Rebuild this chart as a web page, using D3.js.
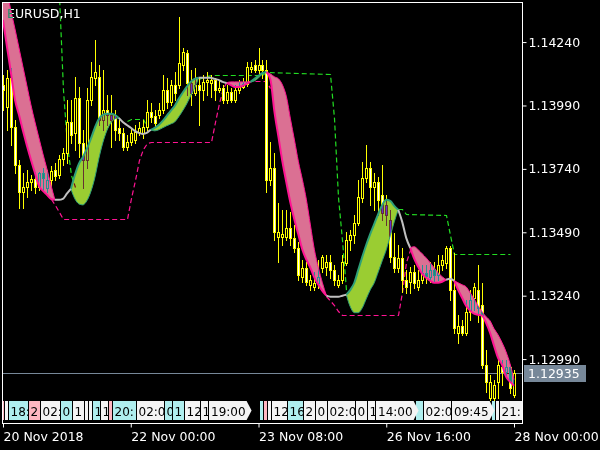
<!DOCTYPE html>
<html><head><meta charset="utf-8">
<script src="https://cdn.jsdelivr.net/npm/d3@7"></script>
<style>html,body{margin:0;padding:0;background:#000;}svg{display:block;}</style>
</head><body>
<svg id="c" width="600" height="450"></svg>
<script>
// ---------- DATA ----------
const chartTitle = "EURUSD,H1";
const barOpen = [1.14071,1.13984,1.14099,1.13906,1.13756,1.13650,1.13669,1.13689,1.13701,1.13669,1.13724,1.13665,1.13697,1.13736,1.13716,1.13780,1.13803,1.13925,1.13882,1.14020,1.13843,1.13776,1.14012,1.14099,1.14103,1.13933,1.13973,1.13953,1.13953,1.13902,1.13882,1.13827,1.13847,1.13854,1.13886,1.13882,1.13906,1.13965,1.13949,1.13953,1.13973,1.14051,1.14004,1.14071,1.14071,1.14150,1.14197,1.14079,1.14040,1.14071,1.14051,1.14083,1.14079,1.14091,1.14051,1.14059,1.14012,1.14044,1.14012,1.14051,1.14063,1.14075,1.14134,1.14150,1.14130,1.14150,1.14130,1.13697,1.13744,1.13472,1.13472,1.13472,1.13508,1.13468,1.13429,1.13315,1.13350,1.13283,1.13275,1.13291,1.13350,1.13354,1.13374,1.13342,1.13283,1.13303,1.13370,1.13460,1.13480,1.13527,1.13626,1.13705,1.13744,1.13669,1.13689,1.13638,1.13598,1.13539,1.13393,1.13350,1.13389,1.13303,1.13295,1.13334,1.13275,1.13303,1.13330,1.13315,1.13342,1.13322,1.13362,1.13370,1.13429,1.13263,1.13094,1.13122,1.13094,1.13177,1.13232,1.13263,1.13204,1.12968,1.12838,1.12838,1.12901,1.12960,1.12940,1.12960,1.12850];
const barHigh = [1.14110,1.14130,1.14138,1.13933,1.13776,1.13724,1.13736,1.13716,1.13728,1.13728,1.13744,1.13736,1.13752,1.13764,1.13795,1.13823,1.14012,1.14012,1.14103,1.14063,1.13894,1.14059,1.14162,1.14248,1.14150,1.14130,1.14032,1.14032,1.13973,1.13933,1.13902,1.13874,1.13902,1.13913,1.13925,1.13933,1.14012,1.14000,1.13973,1.14000,1.14110,1.14099,1.14091,1.14122,1.14339,1.14217,1.14209,1.14130,1.14138,1.14099,1.14110,1.14122,1.14110,1.14099,1.14091,1.14071,1.14071,1.14059,1.14071,1.14091,1.14099,1.14162,1.14162,1.14170,1.14217,1.14170,1.14170,1.13847,1.13803,1.13606,1.13579,1.13579,1.13571,1.13519,1.13453,1.13382,1.13374,1.13322,1.13334,1.13382,1.13401,1.13401,1.13401,1.13362,1.13322,1.13401,1.13492,1.13500,1.13559,1.13697,1.13768,1.13835,1.13768,1.13724,1.13709,1.13756,1.13638,1.13579,1.13488,1.13441,1.13429,1.13342,1.13354,1.13362,1.13342,1.13362,1.13362,1.13374,1.13374,1.13401,1.13401,1.13437,1.13437,1.13409,1.13165,1.13145,1.13224,1.13263,1.13291,1.13362,1.13291,1.13027,1.12928,1.12909,1.12988,1.12988,1.12988,1.12968,1.12948];
const barLow = [1.13973,1.13894,1.13835,1.13724,1.13586,1.13586,1.13630,1.13657,1.13646,1.13657,1.13657,1.13650,1.13673,1.13697,1.13705,1.13756,1.13764,1.13843,1.13815,1.13787,1.13665,1.13744,1.13992,1.14071,1.13913,1.13894,1.13913,1.13827,1.13854,1.13854,1.13815,1.13815,1.13835,1.13843,1.13874,1.13862,1.13894,1.13925,1.13910,1.13941,1.13961,1.13980,1.13992,1.14012,1.14059,1.14130,1.14032,1.13992,1.14032,1.13913,1.14012,1.14032,1.14024,1.14012,1.14044,1.14000,1.14000,1.14004,1.14004,1.14040,1.14059,1.14067,1.14122,1.14122,1.14110,1.14099,1.13650,1.13677,1.13460,1.13374,1.13441,1.13460,1.13441,1.13413,1.13303,1.13295,1.13283,1.13263,1.13263,1.13271,1.13334,1.13322,1.13311,1.13283,1.13275,1.13291,1.13362,1.13421,1.13449,1.13519,1.13610,1.13689,1.13598,1.13579,1.13559,1.13539,1.13519,1.13374,1.13334,1.13334,1.13256,1.13252,1.13252,1.13271,1.13263,1.13291,1.13291,1.13295,1.13295,1.13303,1.13342,1.13350,1.13224,1.13094,1.13055,1.13086,1.13086,1.13145,1.13185,1.13137,1.12956,1.12862,1.12830,1.12830,1.12838,1.12889,1.12928,1.12858,1.12842];
const barClose = [1.14051,1.14099,1.13906,1.13756,1.13650,1.13669,1.13689,1.13701,1.13669,1.13724,1.13705,1.13697,1.13732,1.13713,1.13780,1.13803,1.13925,1.13874,1.14020,1.13843,1.13776,1.14012,1.14103,1.14122,1.13933,1.13973,1.13953,1.13933,1.13894,1.13882,1.13827,1.13847,1.13882,1.13886,1.13902,1.13906,1.13965,1.13945,1.13921,1.13973,1.14051,1.14004,1.14071,1.14040,1.14158,1.14201,1.14079,1.14040,1.14071,1.14051,1.14083,1.14091,1.14091,1.14051,1.14059,1.14012,1.14044,1.14012,1.14051,1.14063,1.14075,1.14142,1.14142,1.14130,1.14150,1.14130,1.13697,1.13744,1.13492,1.13492,1.13484,1.13508,1.13468,1.13429,1.13322,1.13350,1.13295,1.13303,1.13291,1.13315,1.13393,1.13374,1.13342,1.13303,1.13303,1.13374,1.13460,1.13480,1.13527,1.13630,1.13705,1.13744,1.13669,1.13689,1.13618,1.13567,1.13559,1.13393,1.13350,1.13389,1.13303,1.13275,1.13334,1.13291,1.13303,1.13330,1.13319,1.13342,1.13322,1.13362,1.13382,1.13429,1.13263,1.13114,1.13122,1.13094,1.13177,1.13224,1.13275,1.13192,1.12968,1.12901,1.12901,1.12889,1.12968,1.12940,1.12960,1.12877,1.12935];

// moving-average ribbon, piece by piece (start bar, direction, fast and slow values)
const bandFrom  = [0, 17, 37, 56, 62, 66, 86, 102, 113];
const bandTrend = ['down','up','up','down','up','down','up','down','down'];
const bandFast = [
 [1.14327,1.14221,1.14118,1.14012,1.13953,1.13890,1.13831,1.13776,1.13724,1.13673,1.13653,1.13638,1.13622,1.13618],
 [1.13661,1.13716,1.13760,1.13787,1.13819,1.13858,1.13902,1.13937,1.13953,1.13957,1.13957,1.13953,1.13941],
 [1.13894,1.13902,1.13913,1.13929,1.13949,1.13969,1.13988,1.14016,1.14040,1.14063,1.14083,1.14095,1.14099],
 [1.14079,1.14071,1.14063,1.14063,1.14067,1.14075,1.14083],
 [1.14083,1.14095,1.14107,1.14118,1.14122],
 [1.14122,1.14091,1.13965,1.13866,1.13768,1.13685,1.13606,1.13539,1.13480,1.13421,1.13382,1.13350,1.13311,1.13283,1.13259,1.13240],
 [1.13244,1.13263,1.13291,1.13342,1.13393,1.13441,1.13484,1.13523,1.13563,1.13598,1.13618,1.13614,1.13594,1.13579],
 [1.13429,1.13386,1.13354,1.13326,1.13311,1.13299,1.13291,1.13291,1.13295,1.13303],
 [1.13299,1.13263,1.13232,1.13200,1.13181,1.13169,1.13165,1.13161,1.13133,1.13094,1.13043,1.12995,1.12968,1.12921,1.12901,1.12885]
];
const bandSlow = [
 [1.14505,1.14438,1.14363,1.14292,1.14217,1.14142,1.14067,1.13992,1.13925,1.13862,1.13799,1.13740,1.13677,1.13618],
 [1.13661,1.13622,1.13602,1.13598,1.13614,1.13650,1.13705,1.13780,1.13843,1.13890,1.13921,1.13937,1.13941],
 [1.13894,1.13890,1.13894,1.13902,1.13910,1.13917,1.13925,1.13945,1.13969,1.13996,1.14028,1.14059,1.14099],
 [1.14079,1.14083,1.14083,1.14083,1.14083,1.14083,1.14083],
 [1.14083,1.14087,1.14099,1.14114,1.14122],
 [1.14122,1.14114,1.14103,1.14095,1.14071,1.14024,1.13937,1.13854,1.13768,1.13697,1.13618,1.13519,1.13421,1.13350,1.13291,1.13240],
 [1.13244,1.13196,1.13173,1.13173,1.13192,1.13228,1.13263,1.13291,1.13334,1.13378,1.13421,1.13476,1.13531,1.13579],
 [1.13429,1.13433,1.13421,1.13405,1.13389,1.13370,1.13350,1.13330,1.13315,1.13303],
 [1.13299,1.13291,1.13283,1.13275,1.13252,1.13228,1.13200,1.13177,1.13157,1.13141,1.13110,1.13086,1.13055,1.13019,1.12972,1.12909]
];
const grayFrom = [13, 29, 49, 81, 99, 111];
const grayVals = [
 [1.13618,1.13618,1.13622,1.13642,1.13661],
 [1.13941,1.13925,1.13913,1.13902,1.13890,1.13882,1.13878,1.13882,1.13894],
 [1.14099,1.14099,1.14099,1.14099,1.14095,1.14091,1.14083,1.14079],
 [1.13240,1.13236,1.13236,1.13236,1.13240,1.13244],
 [1.13579,1.13531,1.13468,1.13429],
 [1.13303,1.13307,1.13299]
];
// channel lines (null = hidden)
const upperIdx  = [0,13,14,15,16,17,18,19,31,32,35,36,37,49,50,52,65,66,82,83,84,85,86,87,99,100,101,111,112,113,127];
const upperVals = [1.14642,1.14642,1.14426,1.14051,1.13835,1.13716,1.13669,null,1.13929,1.13937,1.13937,1.13906,null,1.14095,1.14103,1.14110,1.14110,1.14122,1.14114,1.13941,1.13630,1.13460,1.13263,null,1.13583,1.13583,1.13563,1.13559,1.13480,1.13405,1.13405];
const lowerIdx  = [12,13,14,15,31,32,33,34,35,36,37,52,53,54,55,56,57,61,66,67,68,81,83,84,85,99,100,101,102];
const lowerVals = [1.13622,1.13598,1.13571,1.13543,1.13543,1.13626,1.13697,1.13776,1.13819,1.13843,1.13847,1.13847,1.13925,1.14000,1.14059,1.14087,null,1.14087,1.14087,1.14059,null,1.13240,1.13204,1.13181,1.13165,1.13165,1.13256,1.13374,1.13421];

const bidPrice = 1.12935;
const priceTicks = [1.14240,1.13990,1.13740,1.13490,1.13240,1.12990];
const timeTickBars = [0,32,64,96,128];
const timeTickLabels = ['20 Nov 2018','22 Nov 00:00','23 Nov 08:00','26 Nov 16:00','28 Nov 00:00'];

// label strip along the bottom
const stripBar  = [0,1,2,7,10,15,18,21,22,23,25,27,28,34,41,43,46,50,52,65,66,67,68,72,76,79,82,89,92,94,104,106,113,123,124,125];
const stripText = ['','','18:00','20:00','02:00','04:00','10:00','','','12:00','14:00','','20:00','02:00','06:00','10:00','12:00','16:00','19:00','','','','12:00','16:00','20:00','00:00','02:00','06:00','10:00','14:00','','02:00','09:45','','','21:00'];
const stripKind = ['p','w','c','p','w','c','w','w','w','c','w','p','c','w','c','c','w','w','a','c','p','w','w','c','w','w','w','w','w','a','c','w','a','c','w','w'];

// ---------- DRAW ----------
const W = 600, H = 450;
const FONT = "'DejaVu Sans', sans-serif";
const svg = d3.select('#c');
svg.append('rect').attr('width', W).attr('height', H).attr('fill', '#000');

const x = d3.scaleLinear().domain([0, 128]).range([3, 514]);
const y = d3.scaleLinear().domain([1.12738, 1.14398]).range([423, 2]);

const defs = svg.append('defs');
defs.append('clipPath').attr('id', 'plotclip').append('rect')
  .attr('x', 3).attr('y', 3).attr('width', 519).attr('height', 420);
defs.append('clipPath').attr('id', 'stripclip').append('rect')
  .attr('x', 3).attr('y', 400).attr('width', 519).attr('height', 22);

const plot = svg.append('g').attr('clip-path', 'url(#plotclip)');

// bid line
plot.append('line').attr('x1', 2).attr('x2', 522)
  .attr('y1', Math.round(y(bidPrice)) + 0.5).attr('y2', Math.round(y(bidPrice)) + 0.5)
  .attr('stroke', '#778899').attr('stroke-width', 1);

// channel dashed lines
function chanPath(idx, vals) {
  return d3.line().defined((d, k) => vals[k] !== null)
    .x((d, k) => Math.round(x(idx[k])) + 0.5).y((d, k) => Math.round(y(vals[k])) + 0.5)(idx);
}
plot.append('path').attr('d', chanPath(upperIdx, upperVals)).attr('fill', 'none')
  .attr('stroke', '#22DD22').attr('stroke-width', 1.2).attr('stroke-dasharray', '5,3');
plot.append('path').attr('d', chanPath(lowerIdx, lowerVals)).attr('fill', 'none')
  .attr('stroke', '#FF1493').attr('stroke-width', 1.2).attr('stroke-dasharray', '5,3');

// candles
const cg = plot.append('g').attr('shape-rendering', 'crispEdges');
d3.range(barOpen.length).forEach(i => {
  const o = barOpen[i], c = barClose[i];
  const cx = Math.round(x(i)) + 0.5;
  cg.append('line').attr('x1', cx).attr('x2', cx)
    .attr('y1', Math.round(y(barHigh[i]))).attr('y2', Math.round(y(barLow[i])) + 1)
    .attr('stroke', '#FFFF00').attr('stroke-width', 1);
  const top = Math.round(y(Math.max(o, c))) + 0.5;
  const bot = Math.round(y(Math.min(o, c))) + 0.5;
  cg.append('rect').attr('x', cx - 1).attr('y', top)
    .attr('width', 2).attr('height', Math.max(bot - top, 0.01))
    .attr('fill', c < o ? '#FFFFFF' : '#000000')
    .attr('stroke', '#FFFF00').attr('stroke-width', 1);
});

// ribbon
const area = d3.area().curve(d3.curveMonotoneX).x(d => x(d.i)).y0(d => y(d.s)).y1(d => y(d.f));
const lineF = d3.line().curve(d3.curveMonotoneX).x(d => x(d.i)).y(d => y(d.f));
const lineS = d3.line().curve(d3.curveMonotoneX).x(d => x(d.i)).y(d => y(d.s));
const bandPts = bandFrom.map((s, b) => bandFast[b].map((f, k) => ({ i: s + k, f: f, s: bandSlow[b][k] })));
bandPts.forEach((pts, b) => {
  const down = bandTrend[b] === 'down';
  plot.append('path').attr('d', area(pts))
    .attr('fill', down ? '#DB7093' : '#9ACD32')
    .style('mix-blend-mode', 'difference');
});
bandPts.forEach((pts, b) => {
  const down = bandTrend[b] === 'down';
  const col = down ? '#FF1493' : '#2EA078';
  plot.append('path').attr('d', lineS(pts)).attr('fill', 'none')
    .attr('stroke', col).attr('stroke-width', 1);
  plot.append('path').attr('d', lineF(pts)).attr('fill', 'none')
    .attr('stroke', col).attr('stroke-width', 2);
});
const lineG = d3.line().curve(d3.curveMonotoneX).x(d => x(d.i)).y(d => y(d.v));
grayFrom.forEach((s, g) => {
  const pts = grayVals[g].map((v, k) => ({ i: s + k, v: v }));
  plot.append('path').attr('d', lineG(pts)).attr('fill', 'none')
    .attr('stroke', '#C0C0C0').attr('stroke-width', 2);
});

// label strip
const sg = svg.append('g').attr('clip-path', 'url(#stripclip)');
const stripFill = { w: '#F4F4F4', c: '#AFEEEE', p: '#FFB6C1', a: '#F4F4F4' };
const sTop = 401, sH = 19, sFont = 12;
const leftOf = b => Math.round(x(b)) - 2;
const n = stripBar.length;
function nextStart(k) { return k < n - 1 ? leftOf(stripBar[k + 1]) - 1 : 522; }
function fitText(t, str, maxW) {
  let s = str;
  t.text(s);
  while (s.length > 0 && t.node().getComputedTextLength() > maxW) {
    s = s.slice(0, -1);
    t.text(s);
  }
  if (!s) t.remove();
}
stripBar.forEach((b, k) => {
  if (stripKind[k] === 'a') return;
  const x0 = leftOf(b), x1 = nextStart(k);
  sg.append('rect').attr('x', x0).attr('y', sTop).attr('width', Math.max(x1 - x0, 1)).attr('height', sH)
    .attr('fill', stripFill[stripKind[k]]);
  if (stripText[k]) {
    const t = sg.append('text').attr('x', x0 + 1.5).attr('y', sTop + 14.5)
      .attr('font-family', FONT).attr('font-size', sFont).attr('fill', '#000');
    fitText(t, stripText[k], x1 - x0 + 1.5);
  }
});
stripBar.forEach((b, k) => {
  if (stripKind[k] !== 'a') return;
  const x0 = leftOf(b);
  const t = sg.append('text').attr('x', x0 + 2).attr('y', sTop + 14.5)
    .attr('font-family', FONT).attr('font-size', sFont).attr('fill', '#000').text(stripText[k]);
  const tw = t.node().getComputedTextLength();
  const xr = x0 + tw + 3, mid = sTop + sH / 2;
  sg.insert('polygon', () => t.node())
    .attr('points', [[x0, sTop], [xr, sTop], [xr + 5, mid], [xr, sTop + sH], [x0, sTop + sH]].map(p => p.join(',')).join(' '))
    .attr('fill', stripFill.a);
});

// frame
const frame = svg.append('g').attr('stroke', '#FFFFFF').attr('stroke-width', 1);
frame.append('line').attr('x1', 2).attr('x2', 523).attr('y1', 2.5).attr('y2', 2.5);
frame.append('line').attr('x1', 2.5).attr('x2', 2.5).attr('y1', 2).attr('y2', 424);
frame.append('line').attr('x1', 522.5).attr('x2', 522.5).attr('y1', 2).attr('y2', 424);
frame.append('line').attr('x1', 2).attr('x2', 523).attr('y1', 423.5).attr('y2', 423.5);

// price axis
const yAxis = d3.axisRight(y).tickValues(priceTicks).tickSize(4).tickPadding(2).tickFormat(d3.format('.5f'));
const ya = svg.append('g').attr('transform', 'translate(522.5,0)').call(yAxis);
ya.select('.domain').remove();
ya.selectAll('line').attr('stroke', '#FFFFFF');
ya.selectAll('text').attr('fill', '#FFFFFF').attr('font-family', FONT).attr('font-size', 12.5);

// bid price box
const by = y(bidPrice);
svg.append('rect').attr('x', 524).attr('y', Math.round(by) - 8).attr('width', 62).attr('height', 17).attr('fill', '#778899');
svg.append('text').attr('x', 528).attr('y', Math.round(by) + 5).attr('fill', '#FFFFFF')
  .attr('font-family', FONT).attr('font-size', 12.5).text(d3.format('.5f')(bidPrice));

// time axis
const xAxis = d3.axisBottom(x).tickValues(timeTickBars).tickSize(4).tickPadding(5)
  .tickFormat((d, k) => timeTickLabels[k]);
const xa = svg.append('g').attr('transform', 'translate(0,423.5)').call(xAxis);
xa.select('.domain').remove();
xa.selectAll('line').attr('stroke', '#FFFFFF');
xa.selectAll('text').attr('fill', '#FFFFFF').attr('font-family', FONT).attr('font-size', 12.5)
  .attr('text-anchor', 'start');

// title
svg.append('text').attr('x', 7).attr('y', 18).attr('fill', '#FFFFFF')
  .attr('font-family', FONT).attr('font-size', 12.5)
  .style('mix-blend-mode', 'difference').text(chartTitle);
</script>
</body></html>
